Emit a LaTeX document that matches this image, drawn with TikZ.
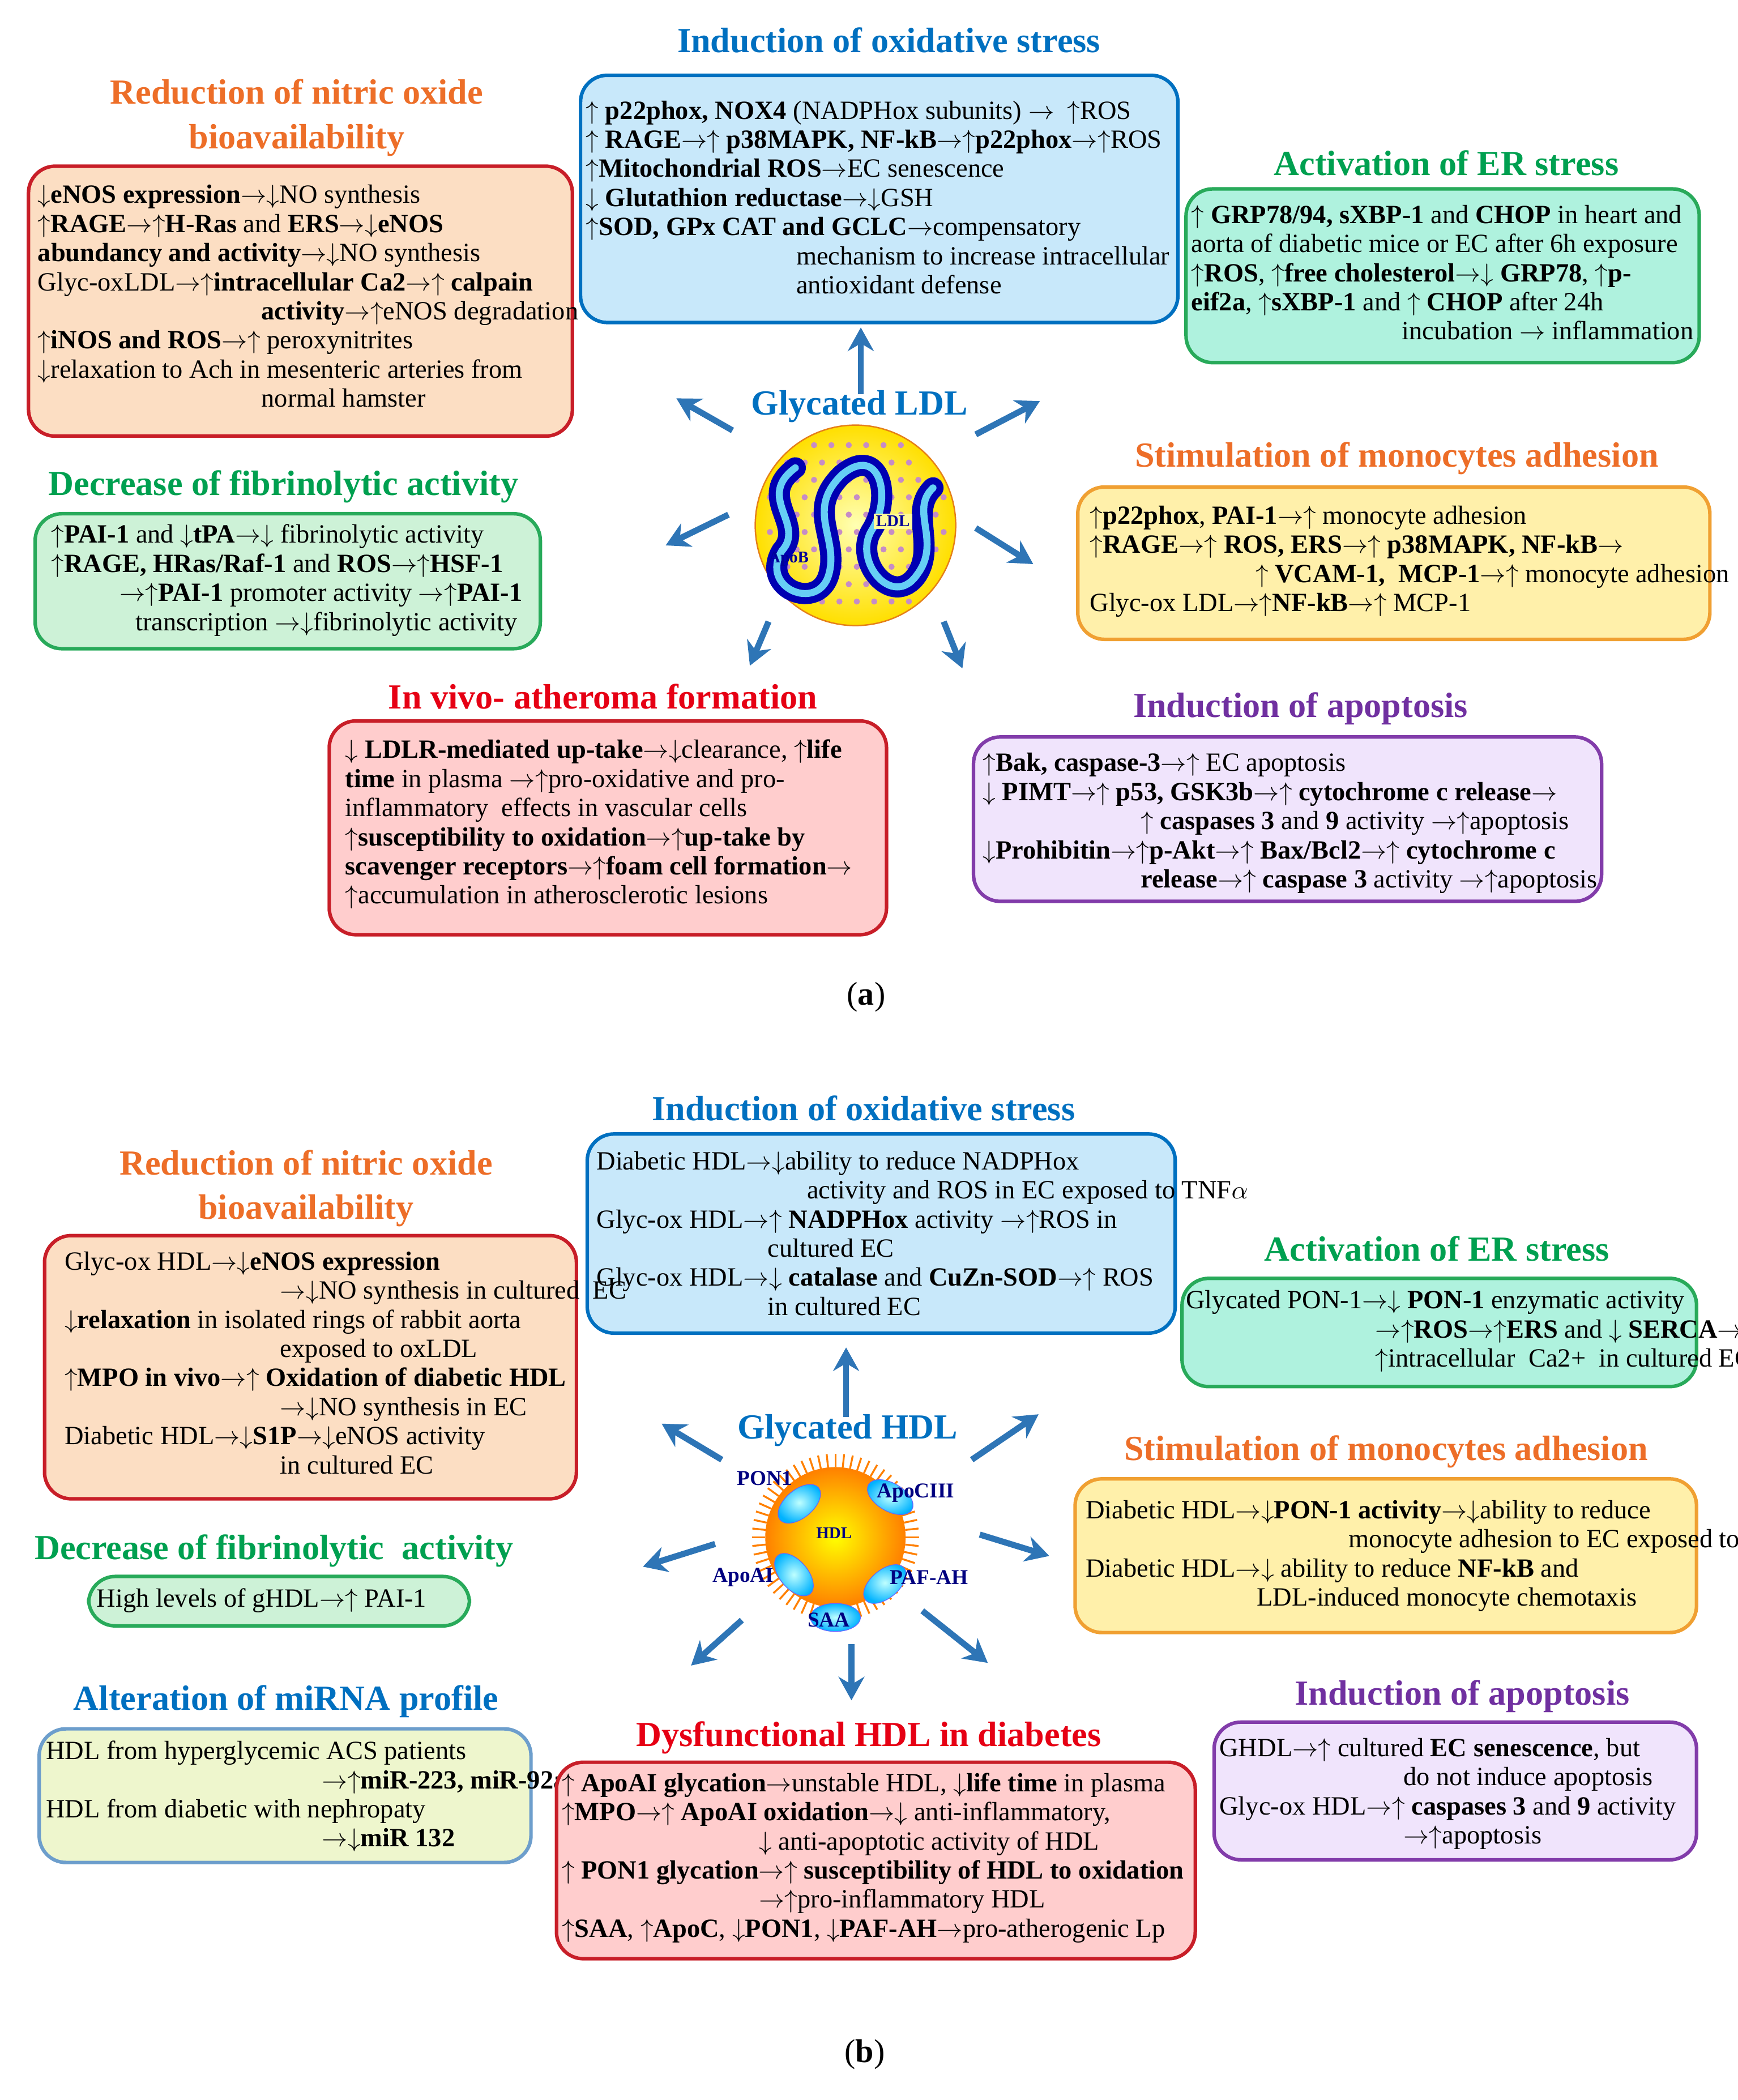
\documentclass[tikz,border=0pt]{standalone}
\usepackage{fontspec}
\setmainfont{Liberation Serif}
\usetikzlibrary{arrows.meta,shapes.geometric,calc}
\newcommand{\myup}{$\uparrow$}
\newcommand{\mydn}{$\downarrow$}
\newcommand{\myto}{$\rightarrow$}
\definecolor{tblue}{RGB}{0,112,192}
\definecolor{torange}{RGB}{237,110,40}
\definecolor{tgreen}{RGB}{0,160,80}
\definecolor{tred}{RGB}{230,0,20}
\definecolor{tpurple}{RGB}{112,48,160}
\definecolor{abl}{RGB}{46,117,182}
\definecolor{fblue}{RGB}{200,232,250}
\definecolor{fpeach}{RGB}{252,222,195}
\definecolor{faqua}{RGB}{175,242,222}
\definecolor{fyel}{RGB}{255,240,170}
\definecolor{fgreen}{RGB}{205,242,215}
\definecolor{fpink}{RGB}{255,205,205}
\definecolor{flav}{RGB}{240,228,252}
\definecolor{flime}{RGB}{238,246,205}
\definecolor{bred}{RGB}{200,30,40}
\definecolor{bgreen}{RGB}{40,170,90}
\definecolor{borange}{RGB}{240,160,50}
\definecolor{bpurple}{RGB}{130,60,170}
\begin{document}
\begin{tikzpicture}[x=0.02cm,y=-0.02cm,
 box/.style={rounded corners=0.4cm,line width=1.5pt,anchor=north west,inner sep=0pt},
 txt/.style={anchor=north west,inner sep=0pt,align=left,font=\fontsize{11.2}{12.4}\selectfont},
 ttl/.style={font=\fontsize{15}{17}\selectfont\bfseries,align=center,inner sep=0pt},
 arr/.style={abl,line width=2.6pt,-{Stealth[length=10pt,width=11pt]}}]
\useasboundingbox (0,0) rectangle (1300,1571);
%%%%%%%%%%%%%%%% (a)
\node[ttl,tblue] (ta1) at (665,30) {Induction of oxidative stress};
\node[box,draw=tblue,fill=fblue,minimum width=8.94cm,minimum height=3.7cm] (a1) at (433,55) {};
\node[txt] (a1t) at (438,75) {\myup\ \textbf{p22phox, NOX4} (NADPHox subunits) \myto\ \ \myup ROS\\
\myup\ \textbf{RAGE}\myto\myup\ \textbf{p38MAPK, NF-kB}\myto\myup\textbf{p22phox}\myto\myup ROS\\
\myup\textbf{Mitochondrial ROS}\myto EC senescence\\
\mydn\ \textbf{Glutathion reductase}\myto\mydn GSH\\
\myup\textbf{SOD, GPx CAT and GCLC}\myto compensatory\\
\hspace*{8em}mechanism to increase intracellular\\
\hspace*{8em}antioxidant defense};

\node[ttl,torange] (ta2) at (222,88) {Reduction of nitric oxide\\[2pt]bioavailability};
\node[box,draw=bred,fill=fpeach,minimum width=8.14cm,minimum height=4.04cm] (a2) at (20,123) {};
\node[txt] (a2t) at (28,138) {\mydn\textbf{eNOS expression}\myto\mydn NO synthesis\\
\myup\textbf{RAGE}\myto\myup\textbf{H-Ras} and \textbf{ERS}\myto\mydn\textbf{eNOS}\\
\textbf{abundancy and activity}\myto\mydn NO synthesis\\
Glyc-oxLDL\myto\myup\textbf{intracellular Ca2}\myto\myup\ \textbf{calpain}\\
\hspace*{8.5em}\textbf{activity}\myto\myup eNOS degradation\\
\myup\textbf{iNOS and ROS}\myto\myup\ peroxynitrites\\
\mydn relaxation to Ach in mesenteric arteries from\\
\hspace*{8.5em}normal hamster};

\node[ttl,tgreen] (ta3) at (1082,122) {Activation of ER stress};
\node[box,draw=bgreen,fill=faqua,minimum width=7.68cm,minimum height=2.6cm] (a3) at (886,140) {};
\node[txt] (a3t) at (891,153) {\myup\ \textbf{GRP78/94, sXBP-1} and \textbf{CHOP} in heart and\\
aorta of diabetic mice or EC after 6h exposure\\
\myup\textbf{ROS}, \myup\textbf{free cholesterol}\myto\mydn\ \textbf{GRP78}, \myup\textbf{p-}\\
\textbf{eif2a}, \myup\textbf{sXBP-1} and \myup\ \textbf{CHOP} after 24h\\
\hspace*{8em}incubation \myto\ inflammation};

\node[ttl,tblue] (tldl) at (643,304) {Glycated LDL};
\node[ttl,torange] (ta4) at (1045,343) {Stimulation of monocytes adhesion};
\node[box,draw=borange,fill=fyel,minimum width=9.46cm,minimum height=2.28cm] (a4) at (805,363) {};
\node[txt] (a4t) at (815,378) {\myup\textbf{p22phox}, \textbf{PAI-1}\myto\myup\ monocyte adhesion\\
\myup\textbf{RAGE}\myto\myup\ \textbf{ROS, ERS}\myto\myup\ \textbf{p38MAPK, NF-kB}\myto\\
\hspace*{6.3em}\myup\ \textbf{VCAM-1, \ MCP-1}\myto\myup\ monocyte adhesion\\
Glyc-ox LDL\myto\myup\textbf{NF-kB}\myto\myup\ MCP-1};

\node[ttl,tgreen] (ta5) at (212,364) {Decrease of fibrinolytic activity};
\node[box,draw=bgreen,fill=fgreen,minimum width=7.56cm,minimum height=2.02cm] (a5) at (25,383) {};
\node[txt] (a5t) at (38,392) {\myup\textbf{PAI-1} and \mydn\textbf{tPA}\myto\mydn\ fibrinolytic activity\\
\myup\textbf{RAGE, HRas/Raf-1} and \textbf{ROS}\myto\myup\textbf{HSF-1}\\
\hspace*{2.6em}\myto\myup\textbf{PAI-1} promoter activity \myto\myup\textbf{PAI-1}\\
\hspace*{3.2em}transcription \myto\mydn fibrinolytic activity};

\node[ttl,tred] (ta6) at (451,521) {In vivo- atheroma formation};
\node[box,draw=bred,fill=fpink,minimum width=8.34cm,minimum height=3.2cm] (a6) at (245,538) {};
\node[txt] (a6t) at (258,553) {\mydn\ \textbf{LDLR-mediated up-take}\myto\mydn clearance, \myup\textbf{life}\\
\textbf{time} in plasma \myto\myup pro-oxidative and pro-\\
inflammatory \ effects in vascular cells\\
\myup\textbf{susceptibility to oxidation}\myto\myup\textbf{up-take by}\\
\textbf{scavenger receptors}\myto\myup\textbf{foam cell formation}\myto\\
\myup accumulation in atherosclerotic lesions};

\node[ttl,tpurple] (ta7) at (973,530) {Induction of apoptosis};
\node[box,draw=bpurple,fill=flav,minimum width=9.4cm,minimum height=2.46cm] (a7) at (727,550) {};
\node[txt] (a7t) at (735,563) {\myup\textbf{Bak, caspase-3}\myto\myup\ EC apoptosis\\
\mydn\ \textbf{PIMT}\myto\myup\ \textbf{p53, GSK3b}\myto\myup\ \textbf{cytochrome c release}\myto\\
\hspace*{6em}\myup\ \textbf{caspases 3} and \textbf{9} activity \myto\myup apoptosis\\
\mydn\textbf{Prohibitin}\myto\myup\textbf{p-Akt}\myto\myup\ \textbf{Bax/Bcl2}\myto\myup\ \textbf{cytochrome c}\\
\hspace*{6em}\textbf{release}\myto\myup\ \textbf{caspase 3} activity \myto\myup apoptosis};

\node[font=\fontsize{14}{16}\selectfont] (la) at (648,746) {(\textbf{a})};

% LDL particle
\node[circle,minimum size=3.0cm,inner sep=0pt,draw=orange!60!brown,line width=0.6pt,
  inner color=yellow!30,outer color=yellow!75!orange] (ldl) at (640,393) {};
\foreach \i in {0,...,11}{\foreach \j in {0,...,9}{
  \pgfmathsetmacro\xx{570+\i*13+mod(\j,2)*6}\pgfmathsetmacro\yy{333+\j*13}
  \pgfmathparse{(\xx-640)^2+(\yy-393)^2<70^2?1:0}
  \ifnum\pgfmathresult=1 \fill[violet!45] (\xx,\yy) circle (1.3pt);\fi}}
\draw[blue!70!black,line width=9pt,line cap=round] (595,350) .. controls (565,372) and (603,392) .. (585,412)
  .. controls (568,440) and (612,458) .. (620,430) .. controls (628,402) and (602,382) .. (630,355)
  .. controls (658,332) and (668,372) .. (652,397) .. controls (638,420) and (668,456) .. (686,430)
  .. controls (700,408) and (680,382) .. (698,365);
\draw[cyan!60,line width=3pt,line cap=round] (595,350) .. controls (565,372) and (603,392) .. (585,412)
  .. controls (568,440) and (612,458) .. (620,430) .. controls (628,402) and (602,382) .. (630,355)
  .. controls (658,332) and (668,372) .. (652,397) .. controls (638,420) and (668,456) .. (686,430)
  .. controls (705,405) and (680,382) .. (698,365);
\node[font=\scriptsize\bfseries,blue!60!black,fill=yellow!40,inner sep=1pt] (ldlt) at (668,390) {LDL};
\node[font=\scriptsize\bfseries,blue!60!black] (apob) at (590,418) {ApoB};

\coordinate (a1e) at (644,245); \coordinate (a1s) at (644,295);
\coordinate (a2s) at (548,322); \coordinate (a2e) at (506,298);
\coordinate (a3s) at (730,325); \coordinate (a3e) at (778,300);
\coordinate (a5s) at (545,385); \coordinate (a5e) at (498,408);
\coordinate (a4s) at (730,395); \coordinate (a4e) at (773,422);
\coordinate (a6s) at (575,465); \coordinate (a6e) at (561,498);
\coordinate (a7s) at (706,465); \coordinate (a7e) at (720,500);
\foreach \k in {1,...,7}{\draw[arr] (a\k s) -- (a\k e);}

%%%%%%%%%%%%%%%% (b)
\node[ttl,tblue] (tb1) at (646,829) {Induction of oxidative stress};
\node[box,draw=tblue,fill=fblue,minimum width=8.8cm,minimum height=2.98cm] (b1) at (438,847) {};
\node[txt] (b1t) at (446,861) {Diabetic HDL\myto\mydn ability to reduce NADPHox\\
\hspace*{8em}activity and ROS in EC exposed to TNF$\alpha$\\
Glyc-ox HDL\myto\myup\ \textbf{NADPHox} activity \myto\myup ROS in\\
\hspace*{6.5em}cultured EC\\
Glyc-ox HDL\myto\mydn\ \textbf{catalase} and \textbf{CuZn-SOD}\myto\myup\ ROS\\
\hspace*{6.5em}in cultured EC};

\node[ttl,torange] (tb2) at (229,889) {Reduction of nitric oxide\\[2pt]bioavailability};
\node[box,draw=bred,fill=fpeach,minimum width=7.96cm,minimum height=3.94cm] (b2) at (32,923) {};
\node[txt] (b2t) at (48,936) {Glyc-ox HDL\myto\mydn\textbf{eNOS expression}\\
\hspace*{8.2em}\myto\mydn NO synthesis in cultured \ EC\\
\mydn\textbf{relaxation} in isolated rings of rabbit aorta\\
\hspace*{8.2em}exposed to oxLDL\\
\myup\textbf{MPO in vivo}\myto\myup\ \textbf{Oxidation of diabetic HDL}\\
\hspace*{8.2em}\myto\mydn NO synthesis in EC\\
Diabetic HDL\myto\mydn\textbf{S1P}\myto\mydn eNOS activity\\
\hspace*{8.2em}in cultured EC};

\node[ttl,tgreen] (tb3) at (1075,934) {Activation of ER stress};
\node[box,draw=bgreen,fill=faqua,minimum width=7.7cm,minimum height=1.62cm] (b3) at (883,955) {};
\node[txt] (b3t) at (887,965) {Glycated PON-1\myto\mydn\ \textbf{PON-1} enzymatic activity\\
\hspace*{7.2em}\myto\myup\textbf{ROS}\myto\myup\textbf{ERS} and \mydn\ \textbf{SERCA}\myto\\
\hspace*{7.2em}\myup intracellular \ Ca2+ \ in cultured EC};

\node[ttl,tblue] (thdl) at (634,1070) {Glycated HDL};
\node[ttl,torange] (tb4) at (1037,1086) {Stimulation of monocytes adhesion};
\node[box,draw=borange,fill=fyel,minimum width=9.3cm,minimum height=2.3cm] (b4) at (803,1105) {};
\node[txt] (b4t) at (812,1122) {Diabetic HDL\myto\mydn\textbf{PON-1 activity}\myto\mydn ability to reduce\\
\hspace*{10em}monocyte adhesion to EC exposed to oxLDL\\
Diabetic HDL\myto\mydn\ ability to reduce \textbf{NF-kB} and\\
\hspace*{6.5em}LDL-induced monocyte chemotaxis};

\node[ttl,tgreen] (tb5) at (205,1160) {Decrease of fibrinolytic \ activity};
\node[box,draw=bgreen,fill=fgreen,minimum width=5.7cm,minimum height=0.74cm] (b5) at (65,1178) {};
\node[txt] (b5t) at (72,1188) {High levels of gHDL\myto\myup\ PAI-1};

\node[ttl,tblue] (tb6) at (214,1273) {Alteration of miRNA profile};
\node[box,draw=abl!70,fill=flime,minimum width=7.36cm,minimum height=2.0cm] (b6) at (28,1292) {};
\node[txt] (b6t) at (34,1302) {HDL from hyperglycemic ACS patients\\
\hspace*{10.5em}\myto\myup\textbf{miR-223, miR-92a, miR-486}\\
HDL from diabetic with nephropaty\\
\hspace*{10.5em}\myto\mydn\textbf{miR 132}};

\node[ttl,tred] (tb7) at (650,1300) {Dysfunctional HDL in diabetes};
\node[box,draw=bred,fill=fpink,minimum width=9.56cm,minimum height=2.94cm] (b7) at (415,1317) {};
\node[txt] (b7t) at (420,1326) {\myup\ \textbf{ApoAI glycation}\myto unstable HDL, \mydn\textbf{life time} in plasma\\
\myup\textbf{MPO}\myto\myup\ \textbf{ApoAI oxidation}\myto\mydn\ anti-inflammatory,\\
\hspace*{7.5em}\mydn\ anti-apoptotic activity of HDL\\
\myup\ \textbf{PON1 glycation}\myto\myup\ \textbf{susceptibility of HDL to oxidation}\\
\hspace*{7.5em}\myto\myup pro-inflammatory HDL\\
\myup\textbf{SAA}, \myup\textbf{ApoC}, \mydn\textbf{PON1}, \mydn\textbf{PAF-AH}\myto pro-atherogenic Lp};

\node[ttl,tpurple] (tb8) at (1094,1269) {Induction of apoptosis};
\node[box,draw=bpurple,fill=flav,minimum width=7.22cm,minimum height=2.06cm] (b8) at (907,1287) {};
\node[txt] (b8t) at (912,1300) {GHDL\myto\myup\ cultured \textbf{EC senescence}, but\\
\hspace*{7em}do not induce apoptosis\\
Glyc-ox HDL\myto\myup\ \textbf{caspases 3} and \textbf{9} activity\\
\hspace*{7em}\myto\myup apoptosis};

\node[font=\fontsize{14}{16}\selectfont] (lb) at (647,1537) {(\textbf{b})};

% HDL particle
\foreach \a in {0,6,...,354}{\draw[orange,line width=0.8pt] ($(625,1150)+(\a:1.05cm)$) -- ($(625,1150)+(\a:1.25cm)$);}
\node[circle,minimum size=2.1cm,inner sep=0pt,inner color=yellow,outer color=orange] (hdl) at (625,1150) {};
\foreach \p/\r in {{(598,1125)}/40,{(666,1120)}/-30,{(594,1178)}/-50,{(662,1185)}/40,{(625,1210)}/0}{
  \node[ellipse,minimum width=0.75cm,minimum height=0.42cm,inner sep=0pt,rotate=\r,
    inner color=cyan!25,outer color=cyan!70!blue,draw=blue!60,line width=0.3pt] at \p {};}
\node[font=\scriptsize\bfseries,blue!50!black] (hl1) at (624,1147) {HDL};
\node[font=\small\bfseries,blue!50!black] (hl2) at (572,1106) {PON1};
\node[font=\small\bfseries,blue!50!black] (hl3) at (685,1117) {ApoCIII};
\node[font=\small\bfseries,blue!50!black] (hl4) at (556,1180) {ApoAI};
\node[font=\small\bfseries,blue!50!black] (hl5) at (695,1180) {PAF-AH};
\node[font=\small\bfseries,blue!50!black] (hl6) at (620,1212) {SAA};

\coordinate (b1s) at (633,1060); \coordinate (b1e) at (633,1008);
\coordinate (b2s) at (540,1092); \coordinate (b2e) at (495,1065);
\coordinate (b3s) at (727,1092); \coordinate (b3e) at (777,1058);
\coordinate (b4s) at (535,1155); \coordinate (b4e) at (481,1172);
\coordinate (b5s) at (733,1148); \coordinate (b5e) at (785,1164);
\coordinate (b6s) at (555,1212); \coordinate (b6e) at (517,1246);
\coordinate (b7s) at (637,1230); \coordinate (b7e) at (637,1272);
\coordinate (b8s) at (690,1205); \coordinate (b8e) at (739,1244);
\foreach \k in {1,...,8}{\draw[arr] (b\k s) -- (b\k e);}
\end{tikzpicture}
\end{document}
